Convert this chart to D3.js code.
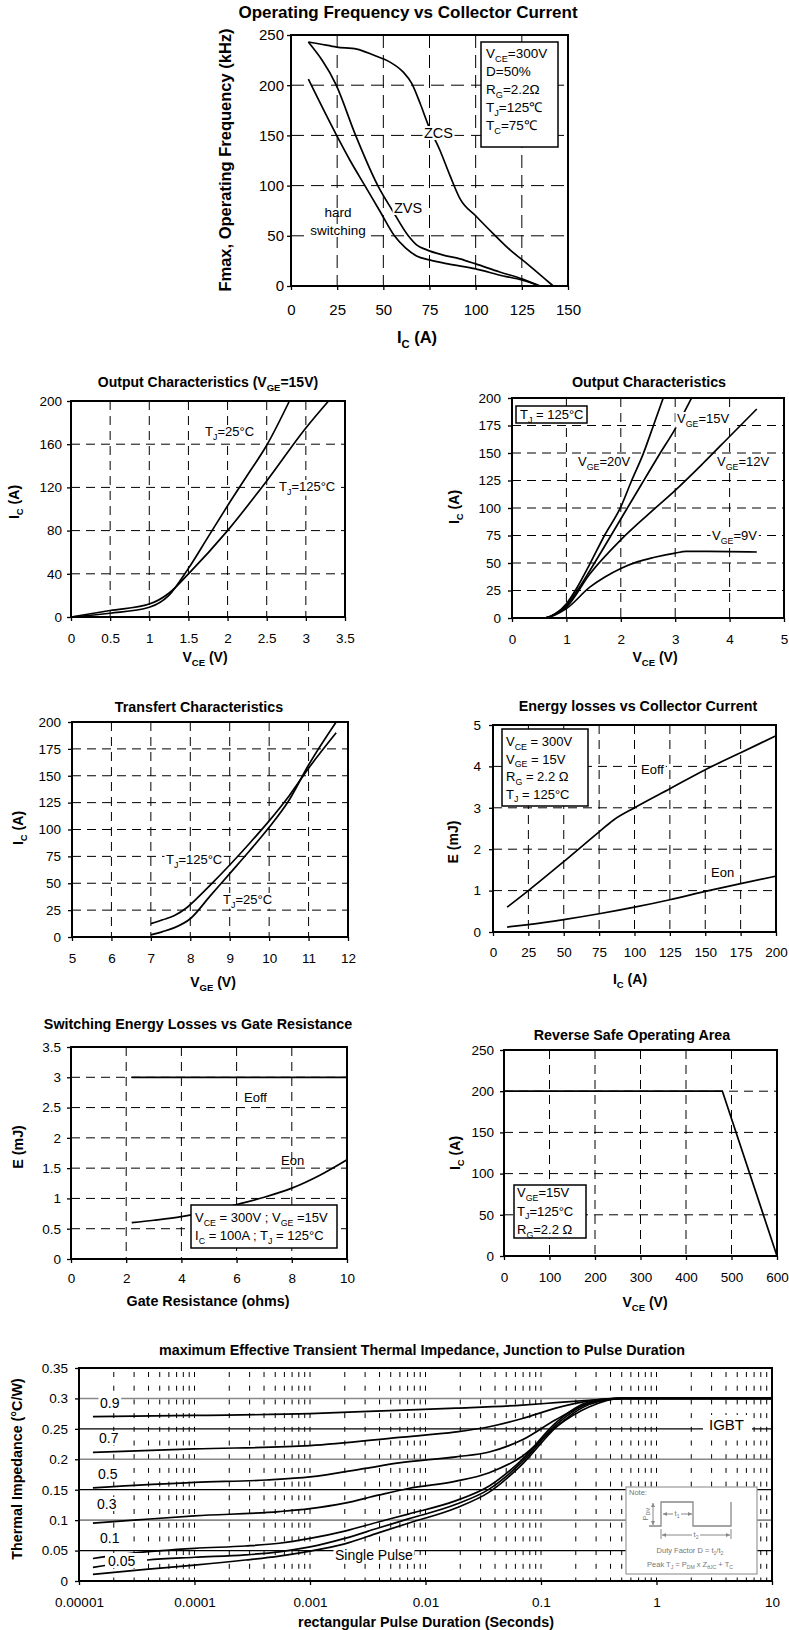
<!DOCTYPE html>
<html>
<head>
<meta charset="utf-8">
<script src="https://cdnjs.cloudflare.com/ajax/libs/d3/7.9.0/d3.min.js"></script>
<style>
  body { margin: 0; background: #fff; }
  svg { display: block; }
</style>
</head>
<body>
<script>
// IGBT datasheet curves, redrawn with D3 v7

// --- Operating frequency vs collector current
const freqXTicks = [0, 25, 50, 75, 100, 125, 150];
const freqYTicks = [0, 50, 100, 150, 200, 250];
const zcsIc  = [9.4, 15.7, 24.7, 35.6, 44.6, 53.6, 60.8, 65.3, 69.9, 74.4, 80.7, 86.1, 91.5, 100.5, 109.6, 118.6, 127.6, 142];
const zcsF   = [243, 241, 238, 236, 230, 223, 213, 202, 182, 160, 135, 110, 87, 69, 52, 36, 22.6, 0];
const zvsIc  = [9.4, 24.5, 35, 47, 55, 63.5, 68, 73.5, 82, 91.5, 100, 113, 125.8, 134.8];
const zvsF   = [243, 200, 150, 100, 75, 50, 41, 36, 31, 27, 22, 14, 6.6, 0];
const hardIc = [9.4, 24.7, 32, 40, 48, 56, 62, 68, 75, 85, 100, 115, 125, 134.8];
const hardF  = [206, 150, 125, 100, 75, 50, 38, 30, 26, 22, 17, 10, 6, 0];
const freqLegend = ['V{CE}=300V', 'D=50%', 'R{G}=2.2Ω', 'T{J}=125℃', 'T{C}=75℃'];

// --- Output characteristics, VGE = 15V
const outXTicks = [0, 0.5, 1, 1.5, 2, 2.5, 3, 3.5];
const outYTicks = [0, 40, 80, 120, 160, 200];
const out25Vce  = [0, 0.5, 1, 1.25, 1.5, 1.75, 2, 2.25, 2.5, 2.79];
const out25Ic   = [0, 3.5, 9, 20, 45, 74, 103, 131, 159, 200];
const out125Vce = [0, 0.5, 1, 1.25, 1.5, 2, 2.5, 3, 3.29];
const out125Ic  = [0, 6, 12, 22, 40, 80, 126, 175, 200];

// --- Output characteristics, TJ = 125°C
const vgeXTicks = [0, 1, 2, 3, 4, 5];
const vgeYTicks = [0, 25, 50, 75, 100, 125, 150, 175, 200];
const vge20Vce = [0, 0.6, 0.8, 1, 1.2, 1.43, 1.7, 2, 2.2, 2.41, 2.6, 2.78];
const vge20Ic  = [0, 0, 4, 13, 28, 49, 75, 101, 125, 149, 175, 200];
const vge15Vce = [0, 0.6, 0.8, 1, 1.2, 1.43, 1.7, 2, 2.41, 2.7, 3, 3.3];
const vge15Ic  = [0, 0, 4, 11.5, 25, 43, 65, 90, 124, 148, 172, 200];
const vge12Vce = [0, 0.6, 0.8, 1, 1.43, 2, 2.5, 3, 3.5, 4, 4.5];
const vge12Ic  = [0, 0, 3.5, 10, 40, 71, 94, 116, 140, 165, 190];
const vge9Vce  = [0, 0.6, 0.8, 1, 1.43, 1.7, 2, 2.3, 2.6, 3, 3.2, 3.6, 4.5];
const vge9Ic   = [0, 0, 3, 8.5, 28, 37, 45, 51, 55, 59, 60.5, 60.5, 60];

// --- Transfer characteristics
const trXTicks = [5, 6, 7, 8, 9, 10, 11, 12];
const trYTicks = [0, 25, 50, 75, 100, 125, 150, 175, 200];
const tr125Vge = [7, 7.3, 7.6, 7.9, 8.2, 8.5, 9, 9.5, 10, 10.5, 11, 11.7];
const tr125Ic  = [12.4, 16, 20, 27, 37, 48, 67, 87, 108, 131, 157, 190];
const tr25Vge  = [7, 7.3, 7.6, 8, 8.5, 9, 9.5, 10, 10.5, 11, 11.7];
const tr25Ic   = [2, 5, 8.7, 17, 38, 59, 80, 102, 127, 160, 200];

// --- Energy losses vs collector current
const enXTicks = [0, 25, 50, 75, 100, 125, 150, 175, 200];
const enYTicks = [0, 1, 2, 3, 4, 5];
const eoffIc = [10, 25, 50, 75, 85, 100, 125, 150, 175, 200];
const eoffE  = [0.6, 1.0, 1.7, 2.42, 2.7, 3.0, 3.46, 3.92, 4.33, 4.74];
const eonIc  = [10, 25, 50, 75, 100, 125, 150, 175, 200];
const eonE   = [0.12, 0.18, 0.3, 0.44, 0.6, 0.78, 0.98, 1.17, 1.35];
const energyLegend = ['V{CE} = 300V', 'V{GE} = 15V', 'R{G} = 2.2 Ω', 'T{J} = 125°C'];

// --- Switching energy vs gate resistance
const rgXTicks = [0, 2, 4, 6, 8, 10];
const rgYTicks = [0, 0.5, 1, 1.5, 2, 2.5, 3, 3.5];
const rgEoffR = [2.2, 10];
const rgEoffE = [3, 3];
const rgEonR  = [2.2, 3, 4, 5, 6, 7, 8, 9, 10];
const rgEonE  = [0.6, 0.64, 0.7, 0.79, 0.9, 1.02, 1.17, 1.38, 1.64];
const gateLegend = ['V{CE} = 300V ; V{GE} =15V', 'I{C} = 100A ; T{J} = 125°C'];

// --- Reverse safe operating area
const rbXTicks = [0, 100, 200, 300, 400, 500, 600];
const rbYTicks = [0, 50, 100, 150, 200, 250];
const rbVce = [0, 480, 600];
const rbIc  = [200, 200, 0];
const rbsoaLegend = ['V{GE}=15V', 'T{J}=125°C', 'R{G}=2.2 Ω'];

// --- Transient thermal impedance
const thXTicks  = [1e-5, 1e-4, 1e-3, 1e-2, 1e-1, 1, 10];
const thXLabels = ['0.00001', '0.0001', '0.001', '0.01', '0.1', '1', '10'];
const thYTicks  = [0, 0.05, 0.1, 0.15, 0.2, 0.25, 0.3, 0.35];
const th09T = [1.32e-5, 1e-4, 1e-3, 4.9e-3, 0.0184, 0.069, 0.134, 0.26, 0.5, 10];
const th09Z = [0.27, 0.272, 0.275, 0.28, 0.284, 0.289, 0.293, 0.297, 0.3, 0.3];
const th07T = [1.32e-5, 1e-4, 1e-3, 5.9e-3, 0.0184, 0.0356, 0.069, 0.134, 0.26, 0.5, 10];
const th07Z = [0.2115, 0.217, 0.2225, 0.236, 0.245, 0.2535, 0.267, 0.284, 0.296, 0.3, 0.3];
const th05T = [1.32e-5, 1e-4, 4.2e-4, 1e-3, 3e-3, 5.9e-3, 0.0184, 0.0356, 0.069, 0.134, 0.26, 0.5, 10];
const th05Z = [0.153, 0.162, 0.166, 0.171, 0.185, 0.194, 0.204, 0.212, 0.232, 0.265, 0.292, 0.3, 0.3];
const th03T = [1.32e-5, 3e-5, 1e-4, 5.4e-4, 1e-3, 2e-3, 3.9e-3, 7.1e-3, 0.0184, 0.0356, 0.069, 0.134, 0.26, 0.5, 10];
const th03Z = [0.095, 0.1, 0.107, 0.114, 0.119, 0.128, 0.141, 0.152, 0.164, 0.178, 0.205, 0.253, 0.286, 0.3, 0.3];
const th01T = [1.32e-5, 3.2e-5, 1e-4, 2.76e-4, 5.4e-4, 1e-3, 2e-3, 3.9e-3, 7.1e-3, 0.0184, 0.0356, 0.069, 0.134, 0.26, 0.5, 10];
const th01Z = [0.037, 0.0465, 0.0537, 0.0575, 0.062, 0.07, 0.082, 0.097, 0.11, 0.132, 0.156, 0.2, 0.26, 0.294, 0.3, 0.3];
const th005T = [1.32e-5, 3.9e-5, 1e-4, 2.76e-4, 5.4e-4, 1e-3, 2e-3, 3.9e-3, 7.1e-3, 0.0184, 0.0356, 0.069, 0.134, 0.26, 0.5, 10];
const th005Z = [0.0225, 0.0345, 0.039, 0.043, 0.048, 0.056, 0.07, 0.087, 0.102, 0.126, 0.151, 0.196, 0.256, 0.292, 0.3, 0.3];
const thSpT = [1.32e-5, 3.77e-5, 1e-4, 2.76e-4, 5.4e-4, 1e-3, 2e-3, 3.9e-3, 7.1e-3, 0.0184, 0.0356, 0.069, 0.134, 0.26, 0.5, 10];
const thSpZ = [0.011, 0.019, 0.026, 0.0345, 0.041, 0.049, 0.061, 0.079, 0.095, 0.12, 0.146, 0.192, 0.252, 0.29, 0.3, 0.3];
const thGridColor = ['#000', '#888', '#000', '#888', '#000', '#888']; // 0.05 .. 0.3

const FONT = '"Liberation Sans", Arial, Helvetica, sans-serif';
const svg = d3.select('body').append('svg')
  .attr('width', 789).attr('height', 1630)
  .attr('font-family', FONT);

svg.append('defs').append('marker')
  .attr('id', 'ah').attr('viewBox', '0 0 6 6').attr('refX', 6).attr('refY', 3)
  .attr('markerWidth', 4).attr('markerHeight', 4).attr('orient', 'auto-start-reverse')
  .append('path').attr('d', 'M0,0L6,3L0,6z').attr('fill', '#888');

// "V{CE}" -> V with subscript CE
function rich(t, str, fs) {
  const parts = str.split(/(\{[^}]*\})/).filter(s => s.length);
  const sh = fs * 0.28;
  let down = false;
  parts.forEach(s => {
    const sub = s[0] === '{';
    const ts = t.append('tspan').text(sub ? s.slice(1, -1) : s);
    if (sub) {
      ts.attr('font-size', fs * 0.68);
      if (!down) ts.attr('dy', sh);
      down = true;
    } else if (down) {
      ts.attr('dy', -sh);
      down = false;
    }
  });
  return t;
}

function panel(o) {
  const p = {};
  p.x = (o.log ? d3.scaleLog() : d3.scaleLinear()).domain(o.xd).range([o.x0, o.x1]);
  p.y = d3.scaleLinear().domain(o.yd).range([o.y1, o.y0]);
  const g = svg.append('g');
  p.grid = g.append('g');
  p.curves = g.append('g').attr('fill', 'none').attr('stroke', '#000')
    .attr('stroke-width', 1.7).attr('stroke-linejoin', 'round');
  g.append('rect')
    .attr('x', o.x0).attr('y', o.y0).attr('width', o.x1 - o.x0).attr('height', o.y1 - o.y0)
    .attr('fill', 'none').attr('stroke', '#000').attr('stroke-width', 2);
  p.lab = g.append('g');

  if (!o.log) {
    p.grid.selectAll('line.gx')
      .data(o.xt.filter(v => v > o.xd[0] && v < o.xd[1]))
      .join('line').attr('class', 'gx')
      .attr('x1', d => p.x(d)).attr('x2', d => p.x(d)).attr('y1', o.y0).attr('y2', o.y1)
      .attr('stroke', '#000').attr('stroke-width', 1).attr('stroke-dasharray', o.dash);
    p.grid.selectAll('line.gy')
      .data(o.yt.filter(v => v > o.yd[0] && v < o.yd[1]))
      .join('line').attr('class', 'gy')
      .attr('y1', d => p.y(d)).attr('y2', d => p.y(d)).attr('x1', o.x0).attr('x2', o.x1)
      .attr('stroke', '#000').attr('stroke-width', 1).attr('stroke-dasharray', o.dash);
  }

  const ax = g.append('g').attr('transform', `translate(0,${o.y1})`)
    .call(d3.axisBottom(p.x).tickValues(o.xt).tickSize(4).tickPadding(o.xpad)
      .tickFormat(o.xf || (d => d)));
  const ay = g.append('g').attr('transform', `translate(${o.x0},0)`)
    .call(d3.axisLeft(p.y).tickValues(o.yt).tickSize(4).tickPadding(o.ypad)
      .tickFormat(d => d));
  [ax, ay].forEach(a => {
    a.select('.domain').remove();
    a.attr('font-size', o.tfs).attr('font-family', FONT);
    a.selectAll('line').attr('stroke-width', 1.3);
  });

  rich(g.append('text').attr('x', o.tx).attr('y', o.ty).attr('text-anchor', 'middle')
    .attr('font-weight', 'bold').attr('font-size', o.titleFs), o.title, o.titleFs);
  rich(g.append('text').attr('x', o.xtx).attr('y', o.xty).attr('text-anchor', 'middle')
    .attr('font-weight', 'bold').attr('font-size', o.afs), o.xtitle, o.afs);
  rich(g.append('text').attr('transform', `translate(${o.ytx},${o.yty}) rotate(-90)`)
    .attr('text-anchor', 'middle').attr('font-weight', 'bold').attr('font-size', o.afs), o.ytitle, o.afs);
  return p;
}

function curve(p, xs, ys, interp) {
  const line = d3.line().x(d => p.x(d[0])).y(d => p.y(d[1])).curve(interp || d3.curveMonotoneX);
  p.curves.append('path').datum(d3.zip(xs, ys)).attr('d', line);
}

function note(p, x, y, str, fs, bg, anchor) {
  const t = p.lab.append('text').attr('x', x).attr('y', y).attr('font-size', fs)
    .attr('text-anchor', anchor || 'start');
  rich(t, str, fs);
  if (bg) {
    const b = t.node().getBBox();
    p.lab.insert('rect', () => t.node())
      .attr('x', b.x - 1.5).attr('y', b.y + 1).attr('width', b.width + 3).attr('height', b.height - 2)
      .attr('fill', '#fff');
  }
  return t;
}

function box(p, x, y, w, h, lines, fs, tx, ty0, step) {
  p.lab.append('rect').attr('x', x).attr('y', y).attr('width', w).attr('height', h)
    .attr('fill', '#fff').attr('stroke', '#000').attr('stroke-width', 1.5);
  lines.forEach((s, i) => {
    rich(p.lab.append('text').attr('x', tx).attr('y', ty0 + i * step).attr('font-size', fs), s, fs);
  });
}

// ---------- Operating frequency
const pf = panel({
  x0: 291, x1: 568, y0: 35, y1: 286, xd: [0, 150], yd: [0, 250],
  xt: freqXTicks, yt: freqYTicks, dash: '13,7', tfs: 15, xpad: 14, ypad: 3,
  title: 'Operating Frequency vs Collector Current', tx: 408, ty: 18, titleFs: 17,
  xtitle: 'I{C} (A)', xtx: 417, xty: 343, ytitle: 'Fmax, Operating Frequency (kHz)',
  ytx: 231, yty: 160, afs: 16.5
});
curve(pf, zcsIc, zcsF);
curve(pf, zvsIc, zvsF);
curve(pf, hardIc, hardF);
note(pf, 424, 138, 'ZCS', 14.5, true);
note(pf, 394, 213, 'ZVS', 14.5, true);
note(pf, 338, 217, 'hard', 13.5, false, 'middle');
note(pf, 338, 235, 'switching', 13.5, true, 'middle');
box(pf, 481, 42, 77, 105, freqLegend, 13.5, 486, 58, 18);

// ---------- Output characteristics VGE=15V
const po = panel({
  x0: 71, x1: 345, y0: 401, y1: 617, xd: [0, 3.5], yd: [0, 200],
  xt: outXTicks, yt: outYTicks, dash: '9,6', tfs: 13.5, xpad: 12, ypad: 5,
  title: 'Output Characteristics (V{GE}=15V)', tx: 208, ty: 387, titleFs: 14,
  xtitle: 'V{CE} (V)', xtx: 205, xty: 662, ytitle: 'I{C} (A)', ytx: 19, yty: 502, afs: 14
});
curve(po, out25Vce, out25Ic);
curve(po, out125Vce, out125Ic);
note(po, 205, 436, 'T{J}=25°C', 13, true);
note(po, 279, 491, 'T{J}=125°C', 13, true);

// ---------- Output characteristics TJ=125
const pv = panel({
  x0: 512, x1: 784, y0: 398, y1: 618, xd: [0, 5], yd: [0, 200],
  xt: vgeXTicks, yt: vgeYTicks, dash: '9,6', tfs: 13.5, xpad: 12, ypad: 7,
  title: 'Output Characteristics', tx: 649, ty: 387, titleFs: 14.3,
  xtitle: 'V{CE} (V)', xtx: 655, xty: 662, ytitle: 'I{C} (A)', ytx: 459, yty: 507, afs: 14
});
curve(pv, vge20Vce, vge20Ic);
curve(pv, vge15Vce, vge15Ic);
curve(pv, vge12Vce, vge12Ic);
curve(pv, vge9Vce, vge9Ic);
box(pv, 516, 406, 71, 17, ['T{J} = 125°C'], 13, 520, 419, 0);
note(pv, 677, 423, 'V{GE}=15V', 13, true);
note(pv, 578, 466, 'V{GE}=20V', 13, true);
note(pv, 717, 466, 'V{GE}=12V', 13, true);
note(pv, 712, 540, 'V{GE}=9V', 13, true);

// ---------- Transfer characteristics
const pt = panel({
  x0: 72, x1: 348, y0: 722, y1: 937, xd: [5, 12], yd: [0, 200],
  xt: trXTicks, yt: trYTicks, dash: '9,6', tfs: 13.5, xpad: 12, ypad: 7,
  title: 'Transfert Characteristics', tx: 199, ty: 712, titleFs: 14.3,
  xtitle: 'V{GE} (V)', xtx: 213, xty: 987, ytitle: 'I{C} (A)', ytx: 23, yty: 828, afs: 14
});
curve(pt, tr125Vge, tr125Ic);
curve(pt, tr25Vge, tr25Ic);
note(pt, 166, 864, 'T{J}=125°C', 13, true);
note(pt, 223, 904, 'T{J}=25°C', 13, true);

// ---------- Energy vs collector current
const pe = panel({
  x0: 493, x1: 776, y0: 725, y1: 932, xd: [0, 200], yd: [0, 5],
  xt: enXTicks, yt: enYTicks, dash: '9,6', tfs: 13.5, xpad: 11, ypad: 8,
  title: 'Energy losses vs Collector Current', tx: 638, ty: 711, titleFs: 14.3,
  xtitle: 'I{C} (A)', xtx: 630, xty: 984, ytitle: 'E (mJ)', ytx: 458, yty: 842, afs: 14
});
curve(pe, eoffIc, eoffE);
curve(pe, eonIc, eonE);
box(pe, 502, 729, 86, 77, energyLegend, 13, 506, 746, 17.5);
note(pe, 641, 774, 'Eoff', 13, true);
note(pe, 711, 877, 'Eon', 13, true);

// ---------- Energy vs gate resistance
const pg = panel({
  x0: 71, x1: 347, y0: 1047, y1: 1259, xd: [0, 10], yd: [0, 3.5],
  xt: rgXTicks, yt: rgYTicks, dash: '9,6', tfs: 13.5, xpad: 10, ypad: 6,
  title: 'Switching Energy Losses vs Gate Resistance', tx: 198, ty: 1029, titleFs: 14.3,
  xtitle: 'Gate Resistance (ohms)', xtx: 208, xty: 1306, ytitle: 'E (mJ)', ytx: 23, yty: 1147, afs: 14.3
});
curve(pg, rgEoffR, rgEoffE, d3.curveLinear);
curve(pg, rgEonR, rgEonE);
note(pg, 244, 1102, 'Eoff', 13, false);
note(pg, 281, 1165, 'Eon', 13, false);
box(pg, 191, 1205, 146, 43, gateLegend, 13, 195, 1222, 18);

// ---------- RBSOA
const pr = panel({
  x0: 504, x1: 777, y0: 1050, y1: 1256, xd: [0, 600], yd: [0, 250],
  xt: rbXTicks, yt: rbYTicks, dash: '9,6', tfs: 13.5, xpad: 12, ypad: 6,
  title: 'Reverse Safe Operating Area', tx: 632, ty: 1040, titleFs: 14.3,
  xtitle: 'V{CE} (V)', xtx: 645, xty: 1307, ytitle: 'I{C} (A)', ytx: 460, yty: 1153, afs: 14
});
curve(pr, rbVce, rbIc, d3.curveLinear);
box(pr, 514, 1185, 72, 53, rbsoaLegend, 13, 517, 1197, 18.5);

// ---------- Transient thermal impedance
const ph = panel({
  log: true, x0: 79, x1: 772, y0: 1368, y1: 1581, xd: [1e-5, 10], yd: [0, 0.35],
  xt: thXTicks, yt: thYTicks, xf: (d, i) => thXLabels[i], tfs: 13.5, xpad: 12, ypad: 7,
  title: 'maximum Effective Transient Thermal Impedance, Junction to Pulse Duration',
  tx: 422, ty: 1355, titleFs: 14.3,
  xtitle: 'rectangular Pulse Duration (Seconds)', xtx: 426, xty: 1627,
  ytitle: 'Thermal Impedance (°C/W)', ytx: 22, yty: 1469, afs: 14.3
});
ph.grid.selectAll('line.gx')
  .data(ph.x.ticks().filter(v => v > 1.01e-5 && v < 9.9))
  .join('line').attr('class', 'gx')
  .attr('x1', d => ph.x(d)).attr('x2', d => ph.x(d)).attr('y1', 1372).attr('y2', 1581)
  .attr('stroke', '#000').attr('stroke-width', 1).attr('stroke-dasharray', '5,8.7');
ph.grid.selectAll('line.gy')
  .data(thYTicks.slice(1, 7))
  .join('line').attr('class', 'gy')
  .attr('x1', 79).attr('x2', 772).attr('y1', d => ph.y(d)).attr('y2', d => ph.y(d))
  .attr('stroke', (d, i) => thGridColor[i]).attr('stroke-width', (d, i) => i % 2 ? 1.6 : 1.2);
[[th09T, th09Z], [th07T, th07Z], [th05T, th05Z], [th03T, th03Z],
 [th01T, th01Z], [th005T, th005Z], [thSpT, thSpZ]].forEach(c => curve(ph, c[0], c[1]));

note(ph, 100, 1408, '0.9', 14, true);
note(ph, 99, 1443, '0.7', 14, true);
note(ph, 98, 1479, '0.5', 14, true);
note(ph, 97, 1509, '0.3', 14, true);
note(ph, 100, 1543, '0.1', 14, true);
ph.lab.append('rect').attr('x', 105).attr('y', 1553).attr('width', 42).attr('height', 15).attr('fill', '#fff');
note(ph, 108, 1566, '0.05', 14, false);
note(ph, 335, 1560, 'Single Pulse', 14, true);
ph.lab.append('rect').attr('x', 703).attr('y', 1415).attr('width', 49).attr('height', 19).attr('fill', '#fff');
note(ph, 709, 1430, 'IGBT', 15, false);

// note box with the pulse sketch
const nb = ph.lab.append('g').attr('fill', '#777').attr('font-size', 7.5);
nb.append('rect').attr('x', 626).attr('y', 1487).attr('width', 131).attr('height', 87)
  .attr('fill', '#fff').attr('stroke', '#999').attr('stroke-width', 1.2);
nb.append('text').attr('x', 629).attr('y', 1495).text('Note:');
nb.append('path').attr('d', 'M649,1526H661V1502H693V1526H731V1502')
  .attr('fill', 'none').attr('stroke', '#888').attr('stroke-width', 1.3);
nb.append('line').attr('x1', 653).attr('x2', 653).attr('y1', 1503).attr('y2', 1525)
  .attr('stroke', '#888').attr('marker-start', 'url(#ah)').attr('marker-end', 'url(#ah)');
rich(nb.append('text').attr('transform', 'translate(648,1514) rotate(-90)').attr('text-anchor', 'middle'), 'P{DM}', 7.5);
nb.append('line').attr('x1', 663).attr('x2', 692).attr('y1', 1514).attr('y2', 1514)
  .attr('stroke', '#888').attr('marker-start', 'url(#ah)').attr('marker-end', 'url(#ah)');
nb.append('rect').attr('x', 673).attr('y', 1510).attr('width', 8).attr('height', 8).attr('fill', '#fff');
rich(nb.append('text').attr('x', 677).attr('y', 1516).attr('text-anchor', 'middle'), 't{1}', 7.5);
nb.append('path').attr('d', 'M661,1529V1539M731,1529V1539').attr('stroke', '#888');
nb.append('line').attr('x1', 662).attr('x2', 730).attr('y1', 1535).attr('y2', 1535)
  .attr('stroke', '#888').attr('marker-start', 'url(#ah)').attr('marker-end', 'url(#ah)');
nb.append('rect').attr('x', 692).attr('y', 1531).attr('width', 8).attr('height', 8).attr('fill', '#fff');
rich(nb.append('text').attr('x', 696).attr('y', 1537).attr('text-anchor', 'middle'), 't{2}', 7.5);
rich(nb.append('text').attr('x', 690).attr('y', 1553).attr('text-anchor', 'middle'), 'Duty Factor  D = t{1}/t{2}', 7.5);
rich(nb.append('text').attr('x', 690).attr('y', 1567).attr('text-anchor', 'middle'), 'Peak T{J} = P{DM} x Z{θJC} + T{C}', 7.5);
</script>
</body>
</html>
